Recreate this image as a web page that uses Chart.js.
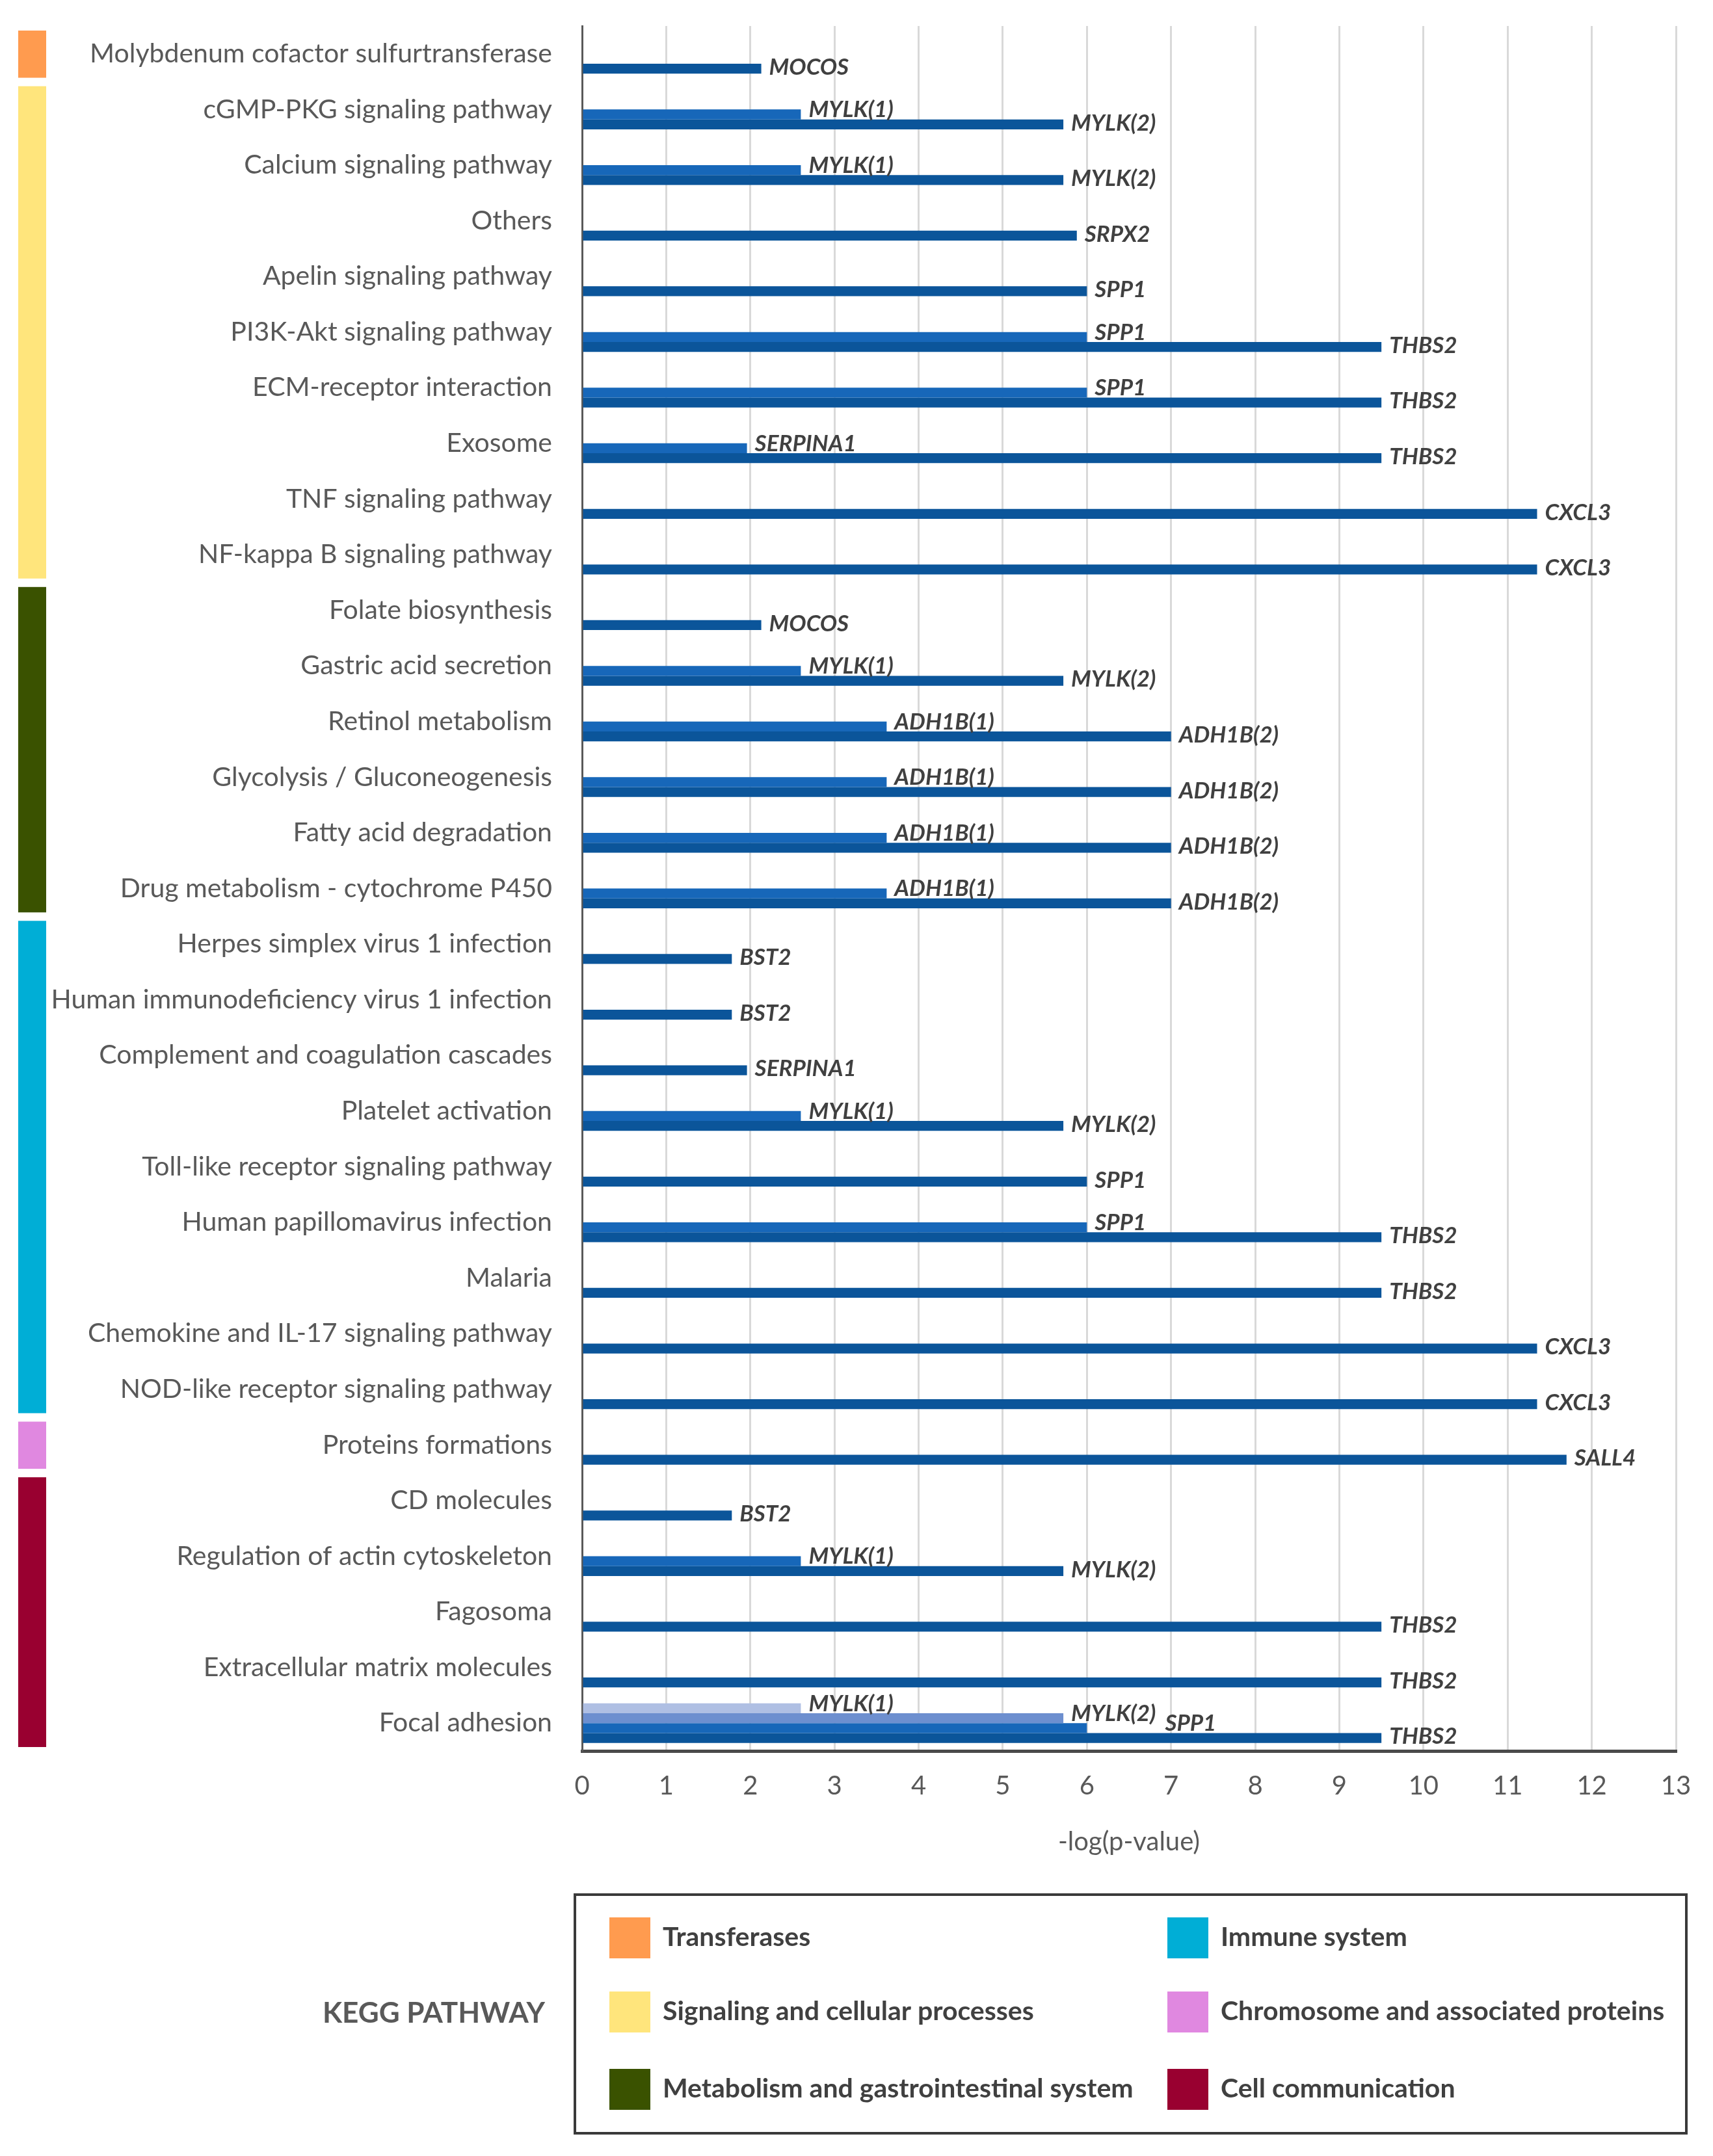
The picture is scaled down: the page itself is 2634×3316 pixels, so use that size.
<!DOCTYPE html>
<html>
<head>
<meta charset="utf-8">
<script src="https://cdn.jsdelivr.net/npm/chart.js@4.4.1/dist/chart.umd.min.js"></script>
<style>
  html, body { margin: 0; padding: 0; background: #fff; }
  #wrap { width: 2634px; height: 3316px; }
</style>
</head>
<body>
<div id="wrap"><canvas id="grafico" width="2634" height="3316"></canvas></div>
<script>
const categories = [
  'Molybdenum cofactor sulfurtransferase',
  'cGMP-PKG signaling pathway',
  'Calcium signaling pathway',
  'Others',
  'Apelin signaling pathway',
  'PI3K-Akt signaling pathway',
  'ECM-receptor interaction',
  'Exosome',
  'TNF signaling pathway',
  'NF-kappa B signaling pathway',
  'Folate biosynthesis',
  'Gastric acid secretion',
  'Retinol metabolism',
  'Glycolysis / Gluconeogenesis',
  'Fatty acid degradation',
  'Drug metabolism - cytochrome P450',
  'Herpes simplex virus 1 infection',
  'Human immunodeficiency virus 1 infection',
  'Complement and coagulation cascades',
  'Platelet activation',
  'Toll-like receptor signaling pathway',
  'Human papillomavirus infection',
  'Malaria',
  'Chemokine and IL-17 signaling pathway',
  'NOD-like receptor signaling pathway',
  'Proteins formations',
  'CD molecules',
  'Regulation of actin cytoskeleton',
  'Fagosoma',
  'Extracellular matrix molecules',
  'Focal adhesion'
];

// four bar slots per category, top to bottom
const slot1Values = [null, null, null, null, null, null, null, null, null, null,
  null, null, null, null, null, null, null, null, null, null,
  null, null, null, null, null, null, null, null, null, null, 2.6];
const slot1Genes = ['', '', '', '', '', '', '', '', '', '',
  '', '', '', '', '', '', '', '', '', '',
  '', '', '', '', '', '', '', '', '', '', 'MYLK(1)'];

const slot2Values = [null, null, null, null, null, null, null, null, null, null,
  null, null, null, null, null, null, null, null, null, null,
  null, null, null, null, null, null, null, null, null, null, 5.72];
const slot2Genes = ['', '', '', '', '', '', '', '', '', '',
  '', '', '', '', '', '', '', '', '', '',
  '', '', '', '', '', '', '', '', '', '', 'MYLK(2)'];

const slot3Values = [null, 2.6, 2.6, null, null, 6.0, 6.0, 1.96, null, null,
  null, 2.6, 3.62, 3.62, 3.62, 3.62, null, null, null, 2.6,
  null, 6.0, null, null, null, null, null, 2.6, null, null, 6.0];
const slot3Genes = ['', 'MYLK(1)', 'MYLK(1)', '', '', 'SPP1', 'SPP1', 'SERPINA1', '', '',
  '', 'MYLK(1)', 'ADH1B(1)', 'ADH1B(1)', 'ADH1B(1)', 'ADH1B(1)', '', '', '', 'MYLK(1)',
  '', 'SPP1', '', '', '', '', '', 'MYLK(1)', '', '', 'SPP1'];

const slot4Values = [2.13, 5.72, 5.72, 5.88, 6.0, 9.5, 9.5, 9.5, 11.35, 11.35,
  2.13, 5.72, 7.0, 7.0, 7.0, 7.0, 1.78, 1.78, 1.96, 5.72,
  6.0, 9.5, 9.5, 11.35, 11.35, 11.7, 1.78, 5.72, 9.5, 9.5, 9.5];
const slot4Genes = ['MOCOS', 'MYLK(2)', 'MYLK(2)', 'SRPX2', 'SPP1', 'THBS2', 'THBS2', 'THBS2', 'CXCL3', 'CXCL3',
  'MOCOS', 'MYLK(2)', 'ADH1B(2)', 'ADH1B(2)', 'ADH1B(2)', 'ADH1B(2)', 'BST2', 'BST2', 'SERPINA1', 'MYLK(2)',
  'SPP1', 'THBS2', 'THBS2', 'CXCL3', 'CXCL3', 'SALL4', 'BST2', 'MYLK(2)', 'THBS2', 'THBS2', 'THBS2'];

const xTicks = [0, 1, 2, 3, 4, 5, 6, 7, 8, 9, 10, 11, 12, 13];

// KEGG groups (first and last category index)
const groupNames = ['Transferases', 'Signaling and cellular processes', 'Metabolism and gastrointestinal system',
  'Immune system', 'Chromosome and associated proteins', 'Cell communication'];
const groupFirst = [0, 1, 10, 16, 25, 26];
const groupLast = [0, 9, 15, 24, 25, 30];
const groupColors = ['#FF9B4F', '#FFE57C', '#3A5200', '#00AED6', '#E088E0', '#990030'];

const slotColors = ['#AFBFE3', '#6D8FCF', '#1767B9', '#0B559A'];

const extras = {
  id: 'extras',
  afterDatasetsDraw(chart) {
    const ctx = chart.ctx;
    const sets = chart.data.datasets;
    ctx.save();
    ctx.font = 'italic bold 35px Lato';
    ctx.fillStyle = '#404040';
    ctx.textAlign = 'left';
    ctx.textBaseline = 'middle';
    categories.forEach((cat, j) => {
      const placed = [];
      sets.forEach((ds, i) => {
        if (ds.data[j] == null) return;
        const bar = chart.getDatasetMeta(i).data[j];
        const text = ds.genes[j];
        const w = ctx.measureText(text).width;
        let x = bar.x + 12;
        const ty = bar.y + (i === 3 ? -2 : -7);
        // push a label to the right when it would run into the one above
        placed.forEach(p => {
          if (Math.abs(p.y - ty) < 30 && x < p.x + p.w + 10 && x + w > p.x) x = p.x + p.w + 14;
        });
        ctx.fillText(text, x, ty);
        placed.push({ x, y: ty, w });
      });
    });
    ctx.restore();
  },
  afterDraw(chart) {
    const ctx = chart.ctx;
    const y = chart.scales.y;
    const band = y.getPixelForValue(1) - y.getPixelForValue(0);
    ctx.save();
    // coloured strips on the left
    groupNames.forEach((name, k) => {
      const top = y.getPixelForValue(groupFirst[k]) - band / 2 + 7;
      const bottom = y.getPixelForValue(groupLast[k]) + band / 2 - 6;
      ctx.fillStyle = groupColors[k];
      ctx.fillRect(28, top, 43, bottom - top);
    });

    // legend box
    ctx.strokeStyle = '#3a3a3a';
    ctx.lineWidth = 4;
    ctx.strokeRect(884, 2914, 1709, 367);
    ctx.fillStyle = '#595959';
    ctx.font = 'bold 44px Lato';
    ctx.textAlign = 'right';
    ctx.textBaseline = 'middle';
    ctx.fillText('KEGG PATHWAY', 838, 3097);

    const colX = [937, 1795];
    const rowY = [2949, 3063, 3182];
    ctx.font = 'bold 41px Lato';
    ctx.textAlign = 'left';
    groupNames.forEach((name, k) => {
      const sx = colX[Math.floor(k / 3)];
      const sy = rowY[k % 3];
      ctx.fillStyle = groupColors[k];
      ctx.fillRect(sx, sy, 63, 63);
      ctx.fillStyle = '#404040';
      ctx.fillText(name, sx + 82, sy + 31);
    });
    ctx.restore();
  }
};

function mostrarGrafico() {
  const ctx = document.getElementById('grafico').getContext('2d');

  window.meuGrafico = new Chart(ctx, {
    type: 'bar',
    data: {
      labels: categories,
      datasets: [
        { data: slot1Values, genes: slot1Genes, backgroundColor: slotColors[0] },
        { data: slot2Values, genes: slot2Genes, backgroundColor: slotColors[1] },
        { data: slot3Values, genes: slot3Genes, backgroundColor: slotColors[2] },
        { data: slot4Values, genes: slot4Genes, backgroundColor: slotColors[3] }
      ]
    },
    options: {
      indexAxis: 'y',
      responsive: false,
      animation: false,
      devicePixelRatio: 1,
      categoryPercentage: 0.713,
      barPercentage: 1,
      layout: { padding: { top: 40, right: 57, bottom: 0, left: 0 } },
      plugins: { legend: { display: false }, tooltip: { enabled: false } },
      scales: {
        x: {
          type: 'linear',
          min: 0,
          max: 13,
          afterBuildTicks: s => { s.ticks = xTicks.map(v => ({ value: v })); },
          afterFit: s => { s.height = 623; },
          grid: {
            color: c => (c.tick && c.tick.value === 0 ? 'rgba(0,0,0,0)' : '#d9d9d9'),
            lineWidth: 3,
            drawTicks: false
          },
          border: { color: '#4a4a4a', width: 5 },
          ticks: { color: '#595959', font: { family: 'Lato', size: 40 }, padding: 30 },
          title: {
            display: true,
            text: '-log(p-value)',
            color: '#595959',
            font: { family: 'Lato', size: 40 },
            padding: { top: 0, bottom: 459 }
          }
        },
        y: {
          type: 'category',
          afterFit: s => { s.width = 895; s.paddingTop = 0; s.paddingBottom = 0; },
          grid: { display: false, drawTicks: false },
          border: { color: '#595959', width: 3 },
          ticks: { color: '#595959', font: { family: 'Lato', size: 41 }, padding: 46, autoSkip: false }
        }
      }
    },
    plugins: [extras]
  });
}

Promise.all([
  document.fonts.load('41px Lato'),
  document.fonts.load('bold 41px Lato'),
  document.fonts.load('italic bold 35px Lato')
]).catch(() => {}).then(mostrarGrafico);
</script>
</body>
</html>
